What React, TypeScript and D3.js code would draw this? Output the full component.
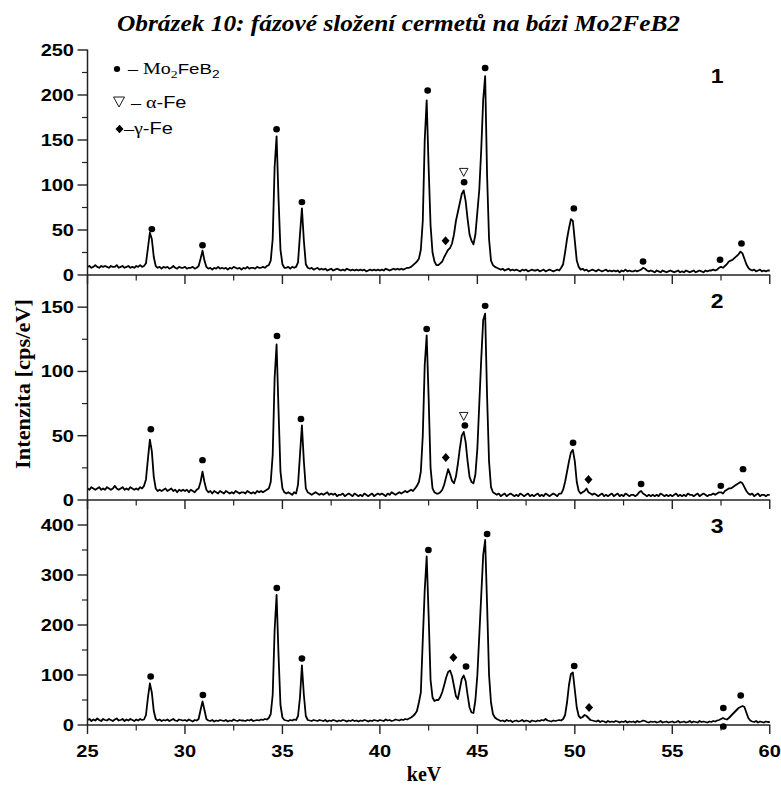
import React from 'react';
import * as d3 from 'd3';

// Energy channels: first channel and spacing (keV)
const KEV_START = 25;
const KEV_STEP = 0.1;

// Sample 1 — intensity per channel (cps/eV), one row per keV
const spectrum1 = [
  9, 10, 8, 9, 11, 9, 8, 10, 9, 10,
  9, 8, 10, 9, 9, 11, 8, 9, 10, 8,
  9, 10, 8, 9, 8, 10, 9, 11, 9, 10,
  13, 30, 47, 40, 20, 10, 8, 9, 7, 9,
  8, 9, 7, 8, 10, 8, 7, 9, 8, 8,
  9, 7, 8, 8, 9, 7, 8, 10, 18, 27,
  16, 9, 7, 8, 6, 8, 7, 9, 7, 8,
  7, 8, 6, 8, 7, 9, 8, 7, 8, 6,
  8, 7, 9, 7, 8, 8, 7, 9, 8, 8,
  9, 8, 10, 11, 16, 40, 120, 154, 85, 28,
  12, 8, 8, 9, 7, 9, 8, 9, 14, 45,
  74, 38, 12, 8, 7, 8, 6, 7, 8, 6,
  7, 6, 7, 5, 6, 7, 5, 6, 7, 6,
  5, 6, 5, 7, 6, 5, 6, 5, 6, 5,
  6, 5, 6, 4, 5, 6, 5, 6, 5, 6,
  5, 6, 5, 7, 6, 5, 6, 7, 6, 7,
  6, 7, 6, 7, 8, 8, 9, 11, 13, 15,
  18, 28, 60, 150, 194, 120, 55, 25, 15, 11,
  11, 13, 15, 20, 24, 28, 30, 35, 45, 60,
  70, 80, 90, 94, 82, 62, 45, 38, 34, 45,
  70, 95, 140, 195, 221, 110, 40, 16, 11, 9,
  8, 7, 6, 7, 5, 6, 7, 5, 6, 5,
  6, 5, 4, 6, 5, 6, 4, 5, 6, 5,
  5, 6, 4, 5, 6, 4, 5, 6, 5, 4,
  5, 6, 5, 8, 12, 25, 40, 52, 62, 60,
  38, 16, 9, 6, 7, 5, 6, 4, 5, 6,
  5, 4, 6, 5, 4, 5, 6, 4, 5, 4,
  5, 4, 5, 3, 5, 4, 6, 4, 5, 4,
  4, 5, 4, 5, 6, 8, 7, 5, 4, 5,
  4, 3, 5, 4, 3, 5, 4, 3, 4, 5,
  4, 3, 4, 5, 3, 4, 3, 5, 4, 3,
  4, 5, 3, 4, 5, 4, 3, 5, 4, 5,
  5, 6, 5, 6, 8, 9, 8, 10, 12, 15,
  16, 17, 19, 21, 23, 26, 24, 18, 12, 8,
  6, 5, 6, 4, 5, 6, 4, 5, 4, 5,
  5,
];

// Sample 2
const spectrum2 = [
  9, 8, 10, 9, 8, 9, 10, 8, 9, 8,
  10, 9, 8, 9, 11, 9, 8, 9, 10, 8,
  9, 8, 10, 9, 8, 9, 8, 10, 9, 11,
  16, 32, 47, 38, 18, 9, 7, 8, 7, 8,
  9, 7, 8, 9, 7, 8, 6, 8, 7, 8,
  7, 8, 6, 8, 7, 6, 8, 9, 14, 22,
  14, 8, 6, 7, 5, 7, 6, 5, 7, 6,
  5, 7, 6, 5, 6, 5, 7, 6, 5, 6,
  6, 5, 7, 6, 5, 6, 5, 7, 6, 7,
  6, 7, 8, 9, 14, 35, 95, 121, 70, 22,
  9, 6, 5, 6, 5, 4, 6, 5, 12, 35,
  58, 30, 9, 6, 5, 4, 5, 6, 5, 4,
  5, 4, 5, 6, 4, 5, 4, 5, 3, 4,
  4, 5, 3, 4, 5, 4, 3, 5, 4, 3,
  4, 3, 5, 4, 3, 4, 5, 3, 4, 5,
  4, 5, 4, 3, 5, 4, 6, 5, 4, 5,
  6, 5, 6, 7, 6, 7, 8, 7, 9, 11,
  14, 22, 50, 105, 128, 80, 25, 9, 6, 5,
  5, 6, 8, 12, 18, 24, 20, 15, 13, 18,
  28, 40, 50, 53, 45, 30, 18, 14, 13, 20,
  40, 75, 110, 140, 145, 80, 30, 10, 6, 5,
  4, 5, 3, 4, 5, 3, 4, 5, 4, 3,
  4, 3, 5, 4, 3, 4, 5, 3, 4, 3,
  4, 5, 3, 4, 3, 5, 4, 3, 4, 5,
  4, 3, 5, 5, 8, 14, 22, 30, 37, 39,
  30, 14, 7, 5, 6, 7, 9, 6, 5, 4,
  5, 4, 3, 4, 5, 3, 4, 3, 4, 5,
  3, 4, 5, 3, 4, 3, 5, 4, 3, 4,
  4, 3, 4, 6, 7, 5, 4, 3, 4, 3,
  4, 3, 4, 3, 5, 4, 3, 4, 3, 4,
  3, 4, 5, 3, 4, 3, 4, 3, 5, 4,
  4, 3, 4, 5, 3, 4, 5, 4, 3, 4,
  4, 5, 4, 5, 6, 6, 5, 7, 8, 9,
  9, 10, 11, 12, 13, 14, 13, 10, 7, 5,
  4, 5, 3, 4, 5, 3, 4, 4, 3, 4,
  4,
];

// Sample 3
const spectrum3 = [
  10, 12, 8, 11, 9, 13, 10, 8, 12, 10,
  9, 12, 10, 8, 11, 13, 9, 10, 12, 8,
  11, 9, 12, 10, 8, 11, 9, 12, 10, 11,
  20, 55, 83, 65, 28, 12, 9, 11, 8, 10,
  9, 11, 8, 10, 12, 9, 8, 11, 10, 9,
  10, 8, 11, 9, 7, 10, 9, 12, 30, 47,
  30, 12, 9, 8, 10, 7, 9, 8, 10, 9,
  8, 10, 7, 9, 8, 11, 9, 8, 10, 9,
  9, 8, 10, 9, 11, 8, 9, 10, 9, 11,
  10, 12, 11, 14, 22, 60, 190, 260, 140, 40,
  15, 10, 9, 8, 10, 9, 11, 10, 18, 55,
  119, 60, 18, 10, 9, 8, 10, 9, 8, 10,
  9, 8, 10, 7, 9, 8, 10, 9, 7, 9,
  8, 10, 9, 7, 9, 8, 10, 8, 9, 7,
  9, 8, 10, 9, 7, 9, 8, 10, 9, 8,
  10, 9, 8, 11, 9, 10, 8, 9, 11, 10,
  9, 11, 10, 12, 11, 13, 15, 18, 22, 28,
  45, 65, 170, 270, 337, 220, 90, 55, 48, 50,
  50, 56, 66, 80, 95, 106, 109, 98, 78, 58,
  52, 72, 92, 99, 88, 60, 35, 25, 24, 50,
  100, 180, 260, 340, 370, 240, 100, 45, 22, 15,
  12, 10, 8, 9, 7, 10, 8, 9, 6, 8,
  9, 7, 8, 10, 7, 9, 8, 6, 9, 8,
  7, 9, 8, 10, 9, 12, 9, 8, 7, 9,
  8, 9, 10, 9, 12, 20, 45, 80, 102, 105,
  70, 35, 18, 14, 16, 20, 18, 14, 10, 9,
  8, 7, 9, 6, 8, 7, 5, 8, 6, 7,
  6, 8, 7, 5, 7, 6, 8, 5, 7, 6,
  7, 5, 8, 6, 7, 9, 8, 6, 5, 7,
  6, 7, 5, 6, 8, 5, 6, 7, 5, 6,
  7, 5, 6, 8, 5, 6, 7, 5, 6, 8,
  5, 7, 6, 5, 8, 6, 7, 6, 5, 7,
  6, 8, 7, 9, 10, 12, 14, 12, 11, 14,
  18, 22, 26, 30, 34, 36, 38, 36, 25, 14,
  9, 7, 6, 8, 5, 7, 6, 5, 7, 6,
  6,
];

// Phase markers [keV, intensity]
const mo2feb2Marks1 = [[28.3, 51], [30.9, 33], [34.7, 162], [36.0, 81], [42.45, 205], [44.32, 103], [45.4, 230], [49.95, 74], [53.5, 15], [57.45, 17], [58.55, 35]];
const alphaFeMarks1 = [[44.3, 114]];
const gammaFeMarks1 = [[43.37, 38]];

const mo2feb2Marks2 = [[28.25, 55], [30.9, 31], [34.72, 127.5], [35.95, 63], [42.4, 133], [44.36, 58], [45.4, 151], [49.91, 44.5], [53.4, 12.4], [57.49, 11], [58.63, 24]];
const alphaFeMarks2 = [[44.3, 65]];
const gammaFeMarks2 = [[43.38, 33], [50.7, 16]];

const mo2feb2Marks3 = [[28.24, 97], [30.92, 60], [34.71, 274], [36.0, 133], [42.49, 350], [44.42, 117], [45.5, 382], [49.97, 118], [57.62, 34], [57.62, -3], [58.51, 59]];
const alphaFeMarks3: number[][] = [];
const gammaFeMarks3 = [[43.77, 135], [50.73, 35]];

// Axis ranges and ticks
const xDomain = [25, 60];
const xTicks = [25, 30, 35, 40, 45, 50, 55, 60];
const xMinorTicks = [27.5, 32.5, 37.5, 42.5, 47.5, 52.5, 57.5];

const yMax1 = 250;
const yMax2 = 175;
const yMax3 = 450;
const yTicks1 = [0, 50, 100, 150, 200, 250];
const yTicks2 = [0, 50, 100, 150];
const yTicks3 = [0, 100, 200, 300, 400];
const yMinor1 = [25, 75, 125, 175, 225];
const yMinor2 = [25, 75, 125];
const yMinor3 = [50, 150, 250, 350];

const panelLabels = ['1', '2', '3'];

const SANS = "'Liberation Sans', Arial, sans-serif";
const SERIF = "'Liberation Serif', 'Times New Roman', serif";
const STRETCH = 1.25;

const LEFT = 87.5;
const RIGHT = 769.75;
const panelBands = [
  [50, 275],
  [275, 500],
  [500, 725],
];

type Panel = {
  spectrum: number[];
  yMax: number;
  yTicks: number[];
  yMinor: number[];
  mo: number[][];
  alpha: number[][];
  gamma: number[][];
  label: string;
};

const panels: Panel[] = [
  { spectrum: spectrum1, yMax: yMax1, yTicks: yTicks1, yMinor: yMinor1, mo: mo2feb2Marks1, alpha: alphaFeMarks1, gamma: gammaFeMarks1, label: panelLabels[0] },
  { spectrum: spectrum2, yMax: yMax2, yTicks: yTicks2, yMinor: yMinor2, mo: mo2feb2Marks2, alpha: alphaFeMarks2, gamma: gammaFeMarks2, label: panelLabels[1] },
  { spectrum: spectrum3, yMax: yMax3, yTicks: yTicks3, yMinor: yMinor3, mo: mo2feb2Marks3, alpha: alphaFeMarks3, gamma: gammaFeMarks3, label: panelLabels[2] },
];

const x = d3.scaleLinear().domain(xDomain).range([LEFT, RIGHT]);

function WideText(props: {
  x: number; y: number; anchor?: string; size: number; weight?: string;
  family?: string; children: React.ReactNode; sx?: number;
}) {
  const { sx = STRETCH } = props;
  return (
    <text
      transform={`translate(${props.x},${props.y}) scale(${sx},1)`}
      textAnchor={props.anchor || 'start'}
      fontSize={props.size}
      fontWeight={props.weight || 'normal'}
      fontFamily={props.family || SANS}
      fill="#000"
    >
      {props.children}
    </text>
  );
}

const Dot = ({ cx, cy, r = 3.2 }: { cx: number; cy: number; r?: number }) => (
  <ellipse cx={cx} cy={cy} rx={r * 1.05} ry={r} fill="#000" />
);
const OpenTriangle = ({ cx, cy, w = 8.5, h = 8 }: { cx: number; cy: number; w?: number; h?: number }) => (
  <path
    d={`M${cx - w / 2},${cy - h / 2}L${cx + w / 2},${cy - h / 2}L${cx},${cy + h / 2}Z`}
    fill="#fff"
    stroke="#000"
    strokeWidth={0.9}
  />
);
const Diamond = ({ cx, cy, w = 8, h = 9 }: { cx: number; cy: number; w?: number; h?: number }) => (
  <path d={`M${cx},${cy - h / 2}L${cx + w / 2},${cy}L${cx},${cy + h / 2}L${cx - w / 2},${cy}Z`} fill="#000" />
);

function SpectrumPanel({ p, band }: { p: Panel; band: number[] }) {
  const [top, bottom] = band;
  const y = d3.scaleLinear().domain([0, p.yMax]).range([bottom, top]);
  const line = d3
    .line<number>()
    .x((_, i) => x(KEV_START + i * KEV_STEP))
    .y((v) => y(v));

  return (
    <g>
      <path d={line(p.spectrum) || ''} fill="none" stroke="#000" strokeWidth={1.8} strokeLinejoin="round" />

      {/* bottom axis of the panel */}
      <line x1={LEFT} x2={RIGHT + 0.5} y1={bottom} y2={bottom} stroke="#222" strokeWidth={1.4} />
      {xTicks.map((t) => (
        <line key={'xt' + t} x1={x(t)} x2={x(t)} y1={bottom} y2={bottom + 9} stroke="#222" strokeWidth={1.4} />
      ))}
      {xMinorTicks.map((t) => (
        <line key={'xm' + t} x1={x(t)} x2={x(t)} y1={bottom} y2={bottom + 5.5} stroke="#222" strokeWidth={1.2} />
      ))}

      {/* left axis ticks and labels */}
      {p.yTicks.map((t) => (
        <g key={'yt' + t}>
          <line x1={LEFT - 10} x2={LEFT} y1={y(t)} y2={y(t)} stroke="#222" strokeWidth={1.4} />
          <WideText x={74} y={y(t) + 5.8} anchor="end" size={16} weight="bold">
            {t}
          </WideText>
        </g>
      ))}
      {p.yMinor.map((t) => (
        <line key={'ym' + t} x1={LEFT - 5.5} x2={LEFT} y1={y(t)} y2={y(t)} stroke="#222" strokeWidth={1.2} />
      ))}

      {/* phase markers */}
      {p.mo.map(([k, v], i) => (
        <Dot key={'mo' + i} cx={x(k)} cy={y(v)} />
      ))}
      {p.alpha.map(([k, v], i) => (
        <OpenTriangle key={'al' + i} cx={x(k)} cy={y(v)} />
      ))}
      {p.gamma.map(([k, v], i) => (
        <Diamond key={'ga' + i} cx={x(k)} cy={y(v)} />
      ))}

      <WideText x={x(57.3)} y={top + (bottom - top) * 0.148} anchor="middle" size={20} weight="bold" sx={1.15}>
        {p.label}
      </WideText>
    </g>
  );
}

export default function App() {
  return (
    <svg
      width={781}
      height={787}
      viewBox="0 0 781 787"
      style={{ position: 'absolute', left: 0, top: 0, background: '#fff' }}
    >
      <rect width={781} height={787} fill="#fff" />

      <text
        x={117}
        y={31}
        textAnchor="start"
        fontFamily={SERIF}
        fontWeight="bold"
        fontStyle="italic"
        fontSize={24}
        textLength={563}
        lengthAdjust="spacingAndGlyphs"
      >
        Obrázek 10: fázové složení cermetů na bázi Mo2FeB2
      </text>

      {panels.map((p, i) => (
        <SpectrumPanel key={i} p={p} band={panelBands[i]} />
      ))}

      {/* shared left axis */}
      <line x1={LEFT} x2={LEFT} y1={49.5} y2={725.5} stroke="#222" strokeWidth={1.5} />

      {/* x tick labels */}
      {xTicks.map((t) => (
        <WideText key={'xl' + t} x={x(t)} y={757} anchor="middle" size={16} weight="bold">
          {t}
        </WideText>
      ))}

      <text x={424} y={781} textAnchor="middle" fontFamily={SERIF} fontWeight="bold" fontSize={20}>
        keV
      </text>
      <text
        transform="translate(30,384) rotate(-90)"
        textAnchor="middle"
        fontFamily={SERIF}
        fontWeight="bold"
        fontSize={20}
        textLength={170}
        lengthAdjust="spacingAndGlyphs"
      >
        Intenzita [cps/eV]
      </text>

      {/* legend */}
      <g>
        <Dot cx={117} cy={69} r={3} />
        <text transform="translate(128,74) scale(1.25,1)" fontSize={16} fill="#000">
          <tspan fontFamily={SERIF}>– Mo</tspan>
          <tspan fontFamily={SERIF} fontSize={11} dy={4}>2</tspan>
          <tspan fontFamily={SANS} fontSize={15} dy={-4}>FeB</tspan>
          <tspan fontFamily={SANS} fontSize={11} dy={4}>2</tspan>
        </text>

        <OpenTriangle cx={119} cy={102} w={11} h={10} />
        <text transform="translate(131,107.5) scale(1.25,1)" fontSize={16} fill="#000">
          <tspan fontFamily={SERIF}>– α</tspan>
          <tspan fontFamily={SANS}>-Fe</tspan>
        </text>

        <Diamond cx={119.5} cy={129} w={8} h={8.5} />
        <text transform="translate(124,134) scale(1.25,1)" fontSize={16} fill="#000">
          <tspan fontFamily={SERIF}>–γ</tspan>
          <tspan fontFamily={SANS}>-Fe</tspan>
        </text>
      </g>
    </svg>
  );
}
